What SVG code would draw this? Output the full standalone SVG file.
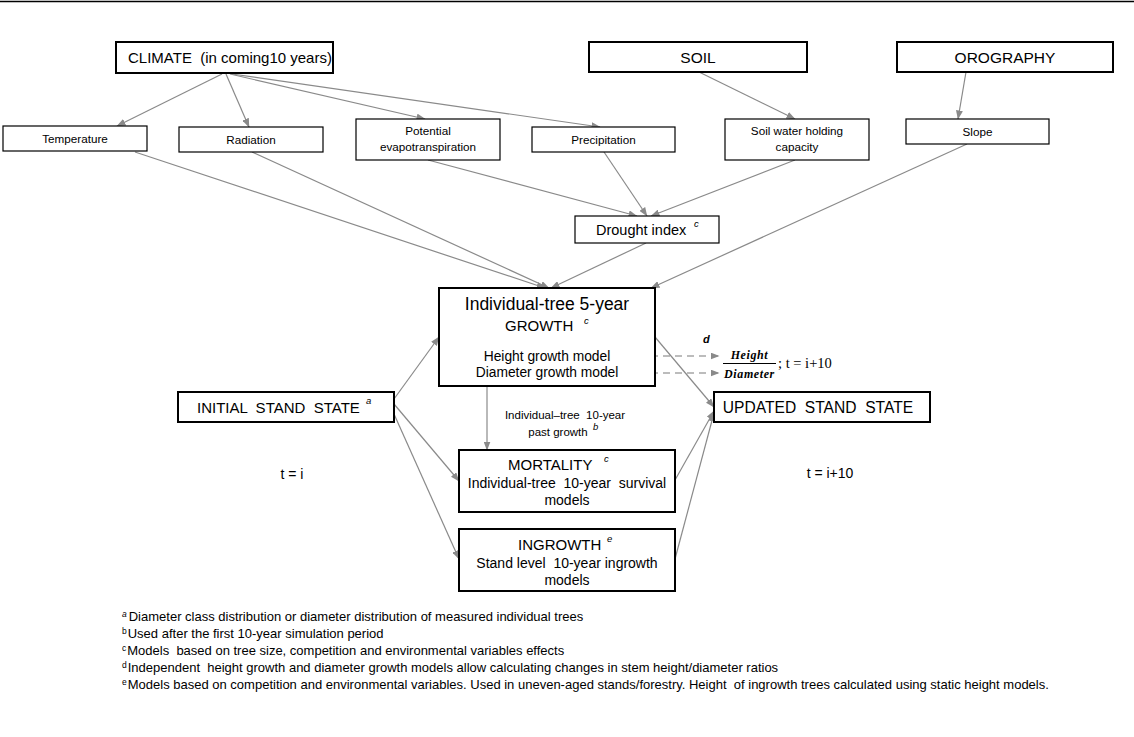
<svg xmlns="http://www.w3.org/2000/svg" width="1134" height="737" viewBox="0 0 1134 737">
<style>
text{font-family:"Liberation Sans",Arial,sans-serif;fill:#000}
.b2{fill:#fff;stroke:#000;stroke-width:2}
.b1{fill:#fff;stroke:#000;stroke-width:1.2}
.c{text-anchor:middle}
.sm{font-size:11.7px}
.sup{font-size:9.5px;font-style:italic}
.ln{stroke:#8a8a8a;stroke-width:1.2;fill:none;marker-end:url(#ah)}
.dash{stroke-dasharray:7 5;stroke:#7a7a7a}
.fn{font-size:13px}
.fs{font-size:8.5px}
.math{font-family:"Liberation Serif","DejaVu Serif",serif;font-style:italic;font-weight:bold;font-size:12px;letter-spacing:0.6px}
.serif{font-family:"Liberation Serif","DejaVu Serif",serif;font-size:14.5px}
</style>
<defs>
<marker id="ah" markerUnits="userSpaceOnUse" markerWidth="9" markerHeight="7" refX="8.5" refY="3.5" orient="auto">
<path d="M0,0 L9,3.5 L0,7 z" fill="#8a8a8a"/>
</marker>
</defs>
<rect width="1134" height="737" fill="#fff"/>
<line x1="0" y1="1.5" x2="1134" y2="1.5" stroke="#000" stroke-width="1.4"/>

<g id="connectors">
<line class="ln" x1="222" y1="74" x2="117" y2="126"/>
<line class="ln" x1="226" y1="74" x2="249" y2="127"/>
<line class="ln" x1="230" y1="74" x2="425" y2="119"/>
<line class="ln" x1="232" y1="74" x2="600" y2="127"/>
<line class="ln" x1="699" y1="72" x2="795" y2="119"/>
<line class="ln" x1="966" y1="72" x2="958" y2="119"/>
<line class="ln" x1="135" y1="152" x2="545" y2="288"/>
<line class="ln" x1="252" y1="152" x2="549" y2="288"/>
<line class="ln" x1="428" y1="160" x2="637" y2="216"/>
<line class="ln" x1="604" y1="152" x2="647" y2="216"/>
<line class="ln" x1="795" y1="160" x2="651" y2="216"/>
<line class="ln" x1="646" y1="243" x2="551" y2="288"/>
<line class="ln" x1="967" y1="144" x2="651" y2="288"/>
<line class="ln" x1="394" y1="399" x2="439" y2="337"/>
<line class="ln" x1="394" y1="404" x2="459" y2="481"/>
<line class="ln" x1="394" y1="414" x2="459" y2="559"/>
<line class="ln" x1="655" y1="337" x2="714" y2="407"/>
<line class="ln" x1="675" y1="480" x2="714" y2="411"/>
<line class="ln" x1="675" y1="559" x2="714" y2="413"/>
<line class="ln" x1="487" y1="386" x2="487" y2="450"/>
<line class="ln dash" x1="627" y1="356" x2="719" y2="356"/>
<line class="ln dash" x1="627" y1="373" x2="719" y2="373"/>
</g>

<g id="climate">
<rect class="b2" x="116" y="42" width="217" height="31"/>
<text x="128" y="63" font-size="15" xml:space="preserve">CLIMATE  (in coming10 years)</text>
</g>
<g id="soil">
<rect class="b2" x="589" y="42" width="218" height="30"/>
<text class="c" x="698" y="62.5" font-size="15.5">SOIL</text>
</g>
<g id="orography">
<rect class="b2" x="897" y="42" width="216" height="30"/>
<text class="c" x="1005" y="62.5" font-size="15.5">OROGRAPHY</text>
</g>
<g id="temperature">
<rect class="b1" x="3" y="126" width="144" height="25"/>
<text class="c sm" x="75" y="142.5">Temperature</text>
</g>
<g id="radiation">
<rect class="b1" x="179" y="127" width="144" height="25"/>
<text class="c sm" x="251" y="143.5">Radiation</text>
</g>
<g id="pet">
<rect class="b1" x="356" y="119" width="144" height="41"/>
<text class="c sm" x="428" y="135">Potential</text>
<text class="c sm" x="428" y="150.5">evapotranspiration</text>
</g>
<g id="precipitation">
<rect class="b1" x="532" y="127" width="143" height="25"/>
<text class="c sm" x="603.5" y="143.5">Precipitation</text>
</g>
<g id="swhc">
<rect class="b1" x="725" y="119" width="144" height="41"/>
<text class="c sm" x="797" y="135">Soil water holding</text>
<text class="c sm" x="797" y="151">capacity</text>
</g>
<g id="slope">
<rect class="b1" x="906" y="119" width="143" height="25"/>
<text class="c sm" x="977.5" y="135.5">Slope</text>
</g>
<g id="drought">
<rect class="b1" x="575" y="216" width="144" height="27"/>
<text x="596" y="234.5" font-size="14.5">Drought index</text>
<text class="sup" x="694" y="227">c</text>
</g>
<g id="growth">
<rect class="b2" x="439" y="288" width="216" height="98"/>
<text class="c" x="547" y="310" font-size="17.5">Individual-tree 5-year</text>
<text x="505" y="331" font-size="15">GROWTH</text>
<text class="sup" x="584" y="324">c</text>
<text class="c" x="547" y="361" font-size="13.8">Height growth model</text>
<text class="c" x="547" y="377" font-size="13.8">Diameter growth model</text>
</g>
<g id="initial">
<rect class="b2" x="178" y="392" width="216" height="30"/>
<text x="197" y="412.5" font-size="15" xml:space="preserve">INITIAL  STAND  STATE</text>
<text class="sup" x="366" y="404">a</text>
</g>
<g id="updated">
<rect class="b2" x="714" y="392" width="216" height="30"/>
<text class="c" x="818" y="413" font-size="15.6" xml:space="preserve">UPDATED  STAND  STATE</text>
</g>
<g id="mortality">
<rect class="b2" x="459" y="450" width="216" height="62"/>
<text x="508" y="470" font-size="15">MORTALITY</text>
<text class="sup" x="604" y="462">c</text>
<text class="c" x="567" y="488" font-size="14" xml:space="preserve">Individual-tree  10-year  survival</text>
<text class="c" x="567" y="505" font-size="14">models</text>
</g>
<g id="ingrowth">
<rect class="b2" x="459" y="529" width="216" height="62"/>
<text x="518" y="550" font-size="15">INGROWTH</text>
<text class="sup" x="607" y="542">e</text>
<text class="c" x="567" y="568" font-size="14" xml:space="preserve">Stand level  10-year ingrowth</text>
<text class="c" x="567" y="585" font-size="14">models</text>
</g>

<g id="labels">
<text class="c" x="565" y="419" font-size="11.5" xml:space="preserve">Individual–tree  10-year</text>
<text class="c" x="558" y="436" font-size="11.5">past growth</text>
<text class="sup" x="593" y="430">b</text>
<text class="c" x="292" y="479" font-size="14">t = i</text>
<text class="c" x="830" y="478" font-size="14">t = i+10</text>
<text x="703" y="343" font-size="11" font-style="italic" font-weight="bold">d</text>
<text class="c math" x="749.5" y="359">Height</text>
<line x1="723" y1="363.5" x2="776" y2="363.5" stroke="#000" stroke-width="1"/>
<text class="c math" x="749.5" y="378">Diameter</text>
<text class="serif" x="778" y="368">; t = i+10</text>
</g>

<g id="footnotes" class="fn">
<text x="122" y="621"><tspan class="fs" font-style="italic" dy="-4">a</tspan><tspan dx="2" dy="4">Diameter class distribution or diameter distribution of measured  individual trees</tspan></text>
<text x="122" y="638"><tspan class="fs" dy="-4">b</tspan><tspan dx="1" dy="4">Used after the first 10-year simulation period</tspan></text>
<text x="122" y="655"><tspan class="fs" dy="-4">c</tspan><tspan dx="1" dy="4" xml:space="preserve">Models  based on tree size, competition and environmental variables effects</tspan></text>
<text x="122" y="672"><tspan class="fs" dy="-4">d</tspan><tspan dx="1" dy="4" xml:space="preserve">Independent  height growth and diameter growth models allow calculating changes in stem height/diameter ratios</tspan></text>
<text x="122" y="689"><tspan class="fs" dy="-4">e</tspan><tspan dx="1" dy="4" xml:space="preserve">Models based on competition and environmental variables. Used in uneven-aged stands/forestry. Height  of ingrowth trees calculated using static height models.</tspan></text>
</g>
</svg>
